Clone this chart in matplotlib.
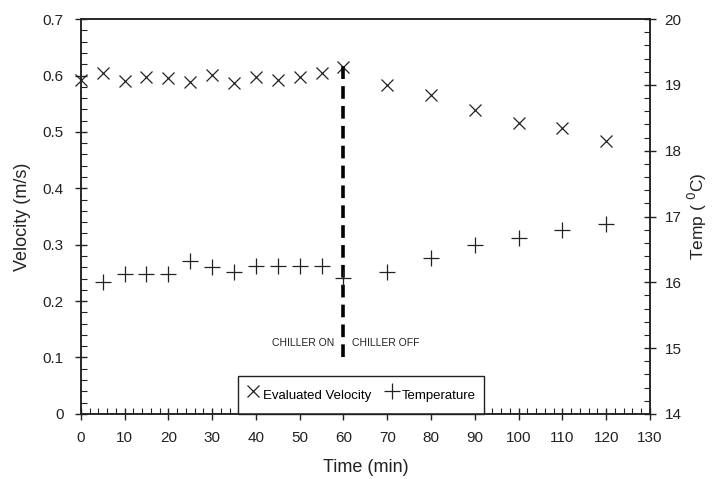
import numpy as np
import matplotlib
matplotlib.use("Agg")
import matplotlib.pyplot as plt
from matplotlib.ticker import MultipleLocator
from matplotlib.lines import Line2D

plt.rcParams['font.family'] = ['Liberation Sans', 'DejaVu Sans']

# Evaluated velocity (m/s)
vel_time = [0, 5, 10, 15, 20, 25, 30, 35, 40, 45, 50, 55, 60, 70, 80, 90, 100, 110, 120]
velocity = [0.592, 0.605, 0.590, 0.598, 0.596, 0.589, 0.601, 0.587, 0.598, 0.592, 0.598,
            0.605, 0.615, 0.583, 0.566, 0.539, 0.516, 0.507, 0.484]

# Temperature (deg C)
temp_time = [5, 10, 15, 20, 25, 30, 35, 40, 45, 50, 55, 60, 70, 80, 90, 100, 110, 120]
temperature = [16.01, 16.13, 16.13, 16.13, 16.33, 16.24, 16.15, 16.25, 16.25, 16.25, 16.25,
               16.07, 16.16, 16.37, 16.57, 16.68, 16.80, 16.89]

chiller_switch = 60
ink = '#222222'

fig = plt.figure(figsize=(7.15, 4.79), dpi=100)
ax = fig.add_axes([0.113, 0.136, 0.796, 0.824])
ax2 = ax.twinx()

ax.plot(vel_time, velocity, linestyle='none', marker='x', markersize=9,
        markeredgewidth=0.9, color=ink, clip_on=False)
ax2.plot(temp_time, temperature, linestyle='none', marker='+', markersize=11,
         markeredgewidth=0.9, color=ink, clip_on=False)

# chiller on/off divider
ax.plot([chiller_switch, chiller_switch], [0.10, 0.63], color='black',
        linestyle=(0, (3.5, 2)), linewidth=2.6)
ax.text(chiller_switch - 2, 0.125, 'CHILLER ON', ha='right', va='center',
        fontsize=7.5, color=ink)
ax.text(chiller_switch + 2, 0.125, 'CHILLER OFF', ha='left', va='center',
        fontsize=7.5, color=ink)

ax.set_xlim(0, 130)
ax.set_ylim(0, 0.7)
ax2.set_ylim(14, 20)

ax.xaxis.set_major_locator(MultipleLocator(10))
ax.xaxis.set_minor_locator(MultipleLocator(2))
ax.yaxis.set_minor_locator(MultipleLocator(0.02))
ax2.yaxis.set_major_locator(MultipleLocator(1))
ax2.yaxis.set_minor_locator(MultipleLocator(0.2))

ax.set_yticks(np.arange(0, 0.71, 0.1))
ax.set_yticklabels(['0', '0.1', '0.2', '0.3', '0.4', '0.5', '0.6', '0.7'])

for a in (ax, ax2):
    a.tick_params(which='major', direction='inout', length=9, width=1.0,
                  colors=ink, labelsize=11, pad=8)
    a.tick_params(which='minor', direction='in', length=4, width=0.8, colors=ink)
    for s in a.spines.values():
        s.set_color(ink)
        s.set_linewidth(1.1)
ax.tick_params(axis='x', which='both', top=False)
ax2.tick_params(which='major', pad=6)

ax.set_xlabel('Time (min)', fontsize=13, color=ink, labelpad=10)
ax.set_ylabel('Velocity (m/s)', fontsize=13, color=ink, labelpad=8)
ax2.set_ylabel('Temp ( $^{0}$C)', fontsize=12.5, color=ink, labelpad=3)

handles = [Line2D([], [], linestyle='none', marker='x', markersize=9,
                  markeredgewidth=0.9, color=ink),
           Line2D([], [], linestyle='none', marker='+', markersize=11,
                  markeredgewidth=0.9, color=ink)]
leg = ax.legend(handles, ['Evaluated Velocity', 'Temperature'], ncol=2,
                loc='lower left', bbox_to_anchor=(36 / 130, 0.0),
                fancybox=False, framealpha=1, edgecolor=ink,
                fontsize=9.5, handlelength=1.0, handleheight=2.2, handletextpad=0.3,
                columnspacing=1.0, borderpad=0.6, borderaxespad=0)
leg.get_frame().set_linewidth(1.0)

fig.savefig('out.png', dpi=100)
